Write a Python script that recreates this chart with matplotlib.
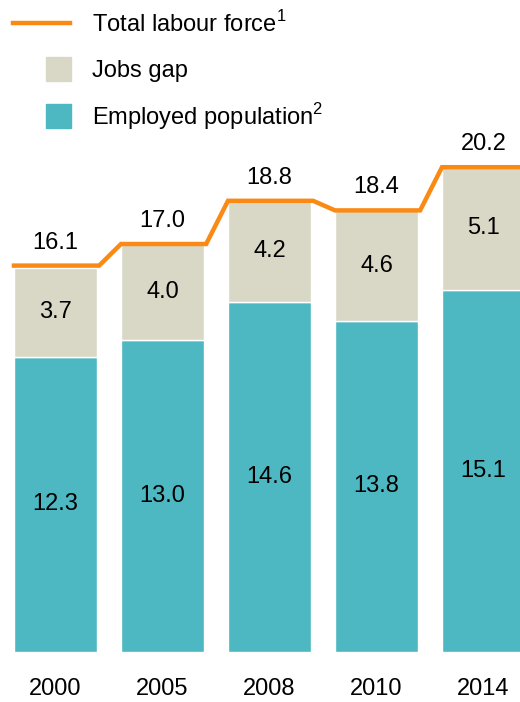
import matplotlib
matplotlib.use('Agg')
import matplotlib.pyplot as plt
from matplotlib.patches import Rectangle
from matplotlib.lines import Line2D

plt.rcParams['font.family'] = ['Liberation Sans', 'DejaVu Sans']
plt.rcParams['mathtext.fontset'] = 'custom'
plt.rcParams['mathtext.rm'] = 'Liberation Sans'

years = ['2000', '2005', '2008', '2010', '2014']
employed = [12.3, 13.0, 14.6, 13.8, 15.1]
jobs_gap = [3.7, 4.0, 4.2, 4.6, 5.1]
total = [16.1, 17.0, 18.8, 18.4, 20.2]

teal = '#4db8c1'
beige = '#d9d8c6'
orange = '#fa8a14'
fs = 17

W, H = 520, 702
fig = plt.figure(figsize=(5.2, 7.02), dpi=100)
# axes: bottom at pixel 652, top at pixel 100
ax = fig.add_axes([0, (H - 652) / H, 1, 552 / H])
ax.set_xlim(-55.5 / 107, (520 - 55.5) / 107)
ax.set_ylim(0, 552 / 24.0)

x = list(range(len(years)))
bw = 83 / 107
ax.bar(x, employed, width=bw, color=teal, edgecolor='white', linewidth=1)
ax.bar(x, jobs_gap, width=bw, bottom=employed, color=beige, edgecolor='white', linewidth=1)

# total labour force line: flat over each bar, slanted between bars
lx, ly = [], []
for i, t in enumerate(total):
    lx += [i - bw / 2, i + bw / 2 + 0.02]
    ly += [t, t]
ax.plot(lx, ly, color=orange, lw=3.2, solid_joinstyle='miter', clip_on=False)

for i in x:
    ax.text(i, employed[i] / 2, f'{employed[i]:.1f}', ha='center', va='center', fontsize=fs)
    ax.text(i, employed[i] + jobs_gap[i] / 2, f'{jobs_gap[i]:.1f}', ha='center', va='center', fontsize=fs)
    ax.annotate(f'{total[i]:.1f}', (i, total[i]), xytext=(0, 16.5), textcoords='offset points',
                ha='center', va='center', fontsize=fs)

ax.set_xticks(x)
ax.set_xticklabels(years, fontsize=fs)
ax.tick_params(axis='x', length=0, pad=19)
ax.set_yticks([])
for s in ax.spines.values():
    s.set_visible(False)

# legend drawn in figure pixels
def fy(p):
    return (H - p) / H

fig.add_artist(Line2D([13 / W, 70 / W], [fy(23), fy(23)], color=orange, lw=3.2))
fig.add_artist(Rectangle((46 / W, fy(81)), 25 / W, 24 / H, color=beige))
fig.add_artist(Rectangle((46 / W, fy(128)), 25 / W, 24 / H, color=teal))
fig.text(92 / W, fy(24), 'Total labour force$^{1}$', fontsize=fs, va='center')
fig.text(92 / W, fy(71), 'Jobs gap', fontsize=fs, va='center')
fig.text(92 / W, fy(117), 'Employed population$^{2}$', fontsize=fs, va='center')

fig.savefig('out.png', dpi=100)
